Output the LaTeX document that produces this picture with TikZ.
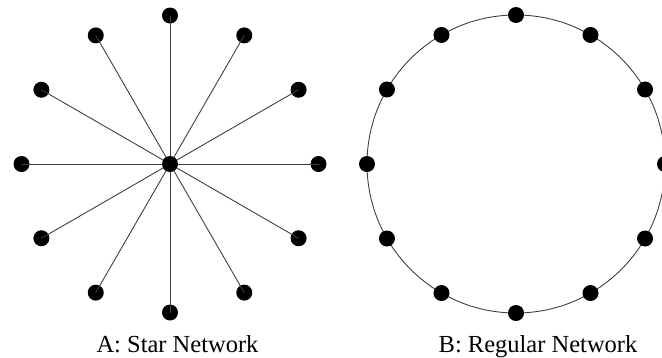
\documentclass[tikz,border=0pt]{standalone}
\usepackage{fontspec}
\setmainfont{Liberation Serif}
\usetikzlibrary{calc}
\begin{document}
\begin{tikzpicture}[x=1pt,y=-1pt,
  dot/.style={circle,fill=black,draw=none,minimum size=16pt,inner sep=0pt},
  link/.style={draw=black!75,line width=0.9pt},
  caption/.style={anchor=base,inner sep=0pt,font=\fontsize{24.5}{28}\selectfont}]
  \useasboundingbox (0,0) rectangle (662,357);

  % A: star network, hub with twelve leaves
  \coordinate (sc) at (170,164);
  \foreach \i in {0,...,11}{
    \node[dot] (s\i) at ($(sc)+({90-30*\i}:148.5pt)$) {};
  }
  \foreach \i in {0,...,11}{
    \draw[link] (sc) -- (s\i.center);
  }
  \node[dot] (hub) at (sc) {};
  \node[caption] (capA) at (177.5,352) {A: Star Network};

  % B: regular network, twelve nodes on a ring
  \coordinate (rc) at (516,164);
  \draw[link] (rc) circle (149pt);
  \foreach \i in {0,...,11}{
    \node[dot] (r\i) at ($(rc)+({90-30*\i}:149pt)$) {};
  }
  \node[caption] (capB) at (538,352) {B: Regular Network};
\end{tikzpicture}
\end{document}
